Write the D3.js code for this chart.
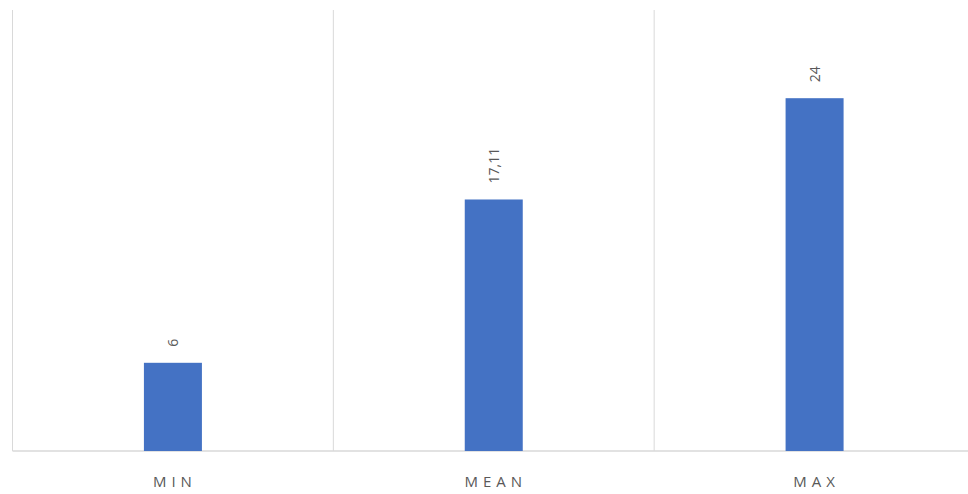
<!DOCTYPE html>
<html>
<head>
<meta charset="utf-8">
<script src="https://cdn.jsdelivr.net/npm/d3@7"></script>
<style>
  body { margin: 0; background: #fff; }
  text { font-family: "Open Sans", "Liberation Sans", sans-serif; fill: #595959; }
</style>
</head>
<body>
<div id="chart"></div>
<script>
const categories = ["MIN", "MEAN", "MAX"];
const values = [6, 17.11, 24];
const valueLabels = ["6", "17,11", "24"];

const svgWidth = 968, svgHeight = 494;
const svg = d3.select("#chart").append("svg")
    .attr("width", svgWidth)
    .attr("height", svgHeight);

const margin = {top: 10, right: -7, bottom: 43, left: 12.5};
const width = svgWidth - margin.left - margin.right,
      height = svgHeight - margin.top - margin.bottom;

const g = svg.append("g")
    .attr("transform", "translate(" + margin.left + "," + margin.top + ")");

// one band per category, bar sits in the middle
const x = d3.scaleBand()
    .domain(categories)
    .range([0, width])
    .paddingInner(0)
    .paddingOuter(0);

const barWidth = 58;

const y = d3.scaleLinear()
    .domain([0, 30])
    .range([height, 0]);

// vertical gridlines at category boundaries
g.append("g")
    .selectAll("line")
    .data(categories)
    .join("line")
    .attr("x1", d => x(d))
    .attr("x2", d => x(d))
    .attr("y1", 0)
    .attr("y2", height)
    .attr("stroke", "#d9d9d9")
    .attr("stroke-width", 1);

// baseline
g.append("line")
    .attr("x1", 0)
    .attr("x2", width)
    .attr("y1", y(0))
    .attr("y2", y(0))
    .attr("stroke", "#d9d9d9")
    .attr("stroke-width", 1.5);

// bars
g.append("g")
    .selectAll("rect")
    .data(values)
    .join("rect")
    .attr("x", (d, i) => x(categories[i]) + x.bandwidth() / 2 - barWidth / 2)
    .attr("y", d => y(d))
    .attr("width", barWidth)
    .attr("height", d => y(0) - y(d))
    .attr("fill", "#4472c4");

// value labels, rotated
g.append("g")
    .selectAll("text")
    .data(values)
    .join("text")
    .attr("transform", (d, i) => "translate(" + (x(categories[i]) + x.bandwidth() / 2 + 5) + "," + (y(d) - 16) + ") rotate(-90)")
    .attr("text-anchor", "start")
    .style("font-size", "14px")
    .text((d, i) => valueLabels[i]);

// category labels
g.append("g")
    .selectAll("text")
    .data(categories)
    .join("text")
    .attr("x", d => x(d) + x.bandwidth() / 2 + 2)
    .attr("y", height + 36)
    .attr("text-anchor", "middle")
    .style("font-size", "15px")
    .style("letter-spacing", "5px")
    .text(d => d);
</script>
</body>
</html>
